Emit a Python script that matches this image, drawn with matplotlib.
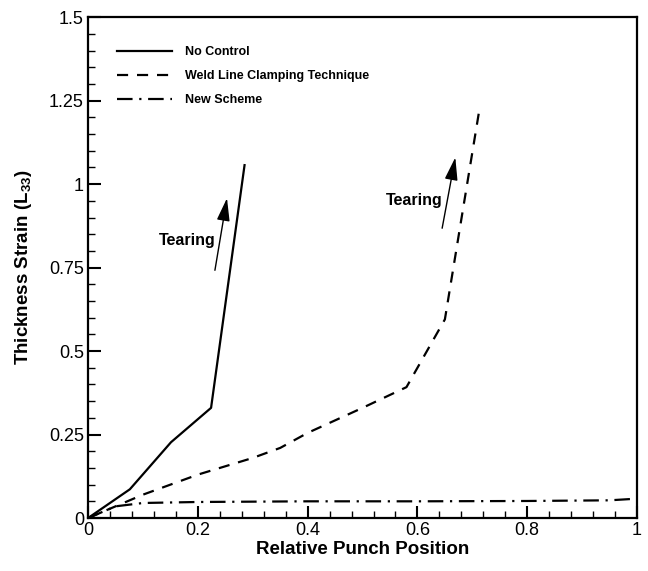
import matplotlib
matplotlib.use("Agg")
import matplotlib.pyplot as plt
from matplotlib.ticker import MultipleLocator, FuncFormatter

plt.rcParams['font.family'] = ['Liberation Sans', 'DejaVu Sans']
plt.rcParams['mathtext.fontset'] = 'custom'
plt.rcParams['mathtext.bf'] = 'Liberation Sans:bold'
plt.rcParams['mathtext.rm'] = 'Liberation Sans'

# Data
nc_x = [0.0, 0.076, 0.151, 0.224, 0.285]
nc_y = [0.0, 0.086, 0.227, 0.33, 1.057]

wl_x = [0.0, 0.1, 0.2, 0.3, 0.35, 0.4, 0.5, 0.58, 0.65, 0.713]
wl_y = [0.0, 0.07, 0.13, 0.18, 0.21, 0.255, 0.33, 0.392, 0.595, 1.225]

ns_x = [0.0, 0.05, 0.1, 0.2, 0.4, 0.6, 0.8, 0.95, 1.0]
ns_y = [0.0, 0.035, 0.045, 0.048, 0.05, 0.05, 0.051, 0.053, 0.058]

labels = ["No Control", "Weld Line Clamping Technique", "New Scheme"]

fig = plt.figure(figsize=(6.48, 5.71), dpi=100)
ax = fig.add_axes([0.136, 0.0928, 0.847, 0.877])

ax.plot(nc_x, nc_y, color='black', lw=1.6, ls='-', label=labels[0])
ax.plot(wl_x, wl_y, color='black', lw=1.6, ls=(0, (5, 4)), label=labels[1])
ax.plot(ns_x, ns_y, color='black', lw=1.6, ls=(0, (7, 3, 1, 3)), label=labels[2])

ax.set_xlim(0, 1)
ax.set_ylim(0, 1.5)
ax.xaxis.set_major_locator(MultipleLocator(0.2))
ax.xaxis.set_minor_locator(MultipleLocator(0.04))
ax.yaxis.set_major_locator(MultipleLocator(0.25))
ax.yaxis.set_minor_locator(MultipleLocator(0.05))

def yfmt(v, p):
    return ('%.2f' % v).rstrip('0').rstrip('.')
def xfmt(v, p):
    return ('%.1f' % v).rstrip('0').rstrip('.')
ax.yaxis.set_major_formatter(FuncFormatter(yfmt))
ax.xaxis.set_major_formatter(FuncFormatter(xfmt))

ax.tick_params(which='both', direction='in', top=False, right=False, labelsize=13, width=1.5)
ax.tick_params(which='major', length=9, pad=3)
ax.tick_params(which='minor', length=5, width=1)
for s in ax.spines.values():
    s.set_linewidth(1.6)

ax.set_xlabel("Relative Punch Position", fontsize=13.5, fontweight='bold', labelpad=1)
ax.set_ylabel(r"Thickness Strain (L$_{\mathbf{33}}$)", fontsize=13.5, fontweight='bold', labelpad=11)

astyle = dict(arrowstyle='-|>,head_length=0.7,head_width=0.2', color='black', lw=1,
              mutation_scale=20, shrinkA=0, shrinkB=0)
ax.annotate("", xy=(0.253, 0.958), xytext=(0.231, 0.742), arrowprops=astyle)
ax.text(0.181, 0.832, "Tearing", ha='center', va='center', fontsize=11.5, fontweight='bold')
ax.annotate("", xy=(0.669, 1.08), xytext=(0.645, 0.868), arrowprops=astyle)
ax.text(0.595, 0.952, "Tearing", ha='center', va='center', fontsize=11.5, fontweight='bold')

leg = ax.legend(loc='upper left', bbox_to_anchor=(0.053, 0.942), frameon=False,
                borderpad=0, borderaxespad=0,
                prop={'weight': 'bold', 'size': 9}, handlelength=4.4, handletextpad=1.0,
                labelspacing=0.95)

fig.savefig("out.png", dpi=100)
